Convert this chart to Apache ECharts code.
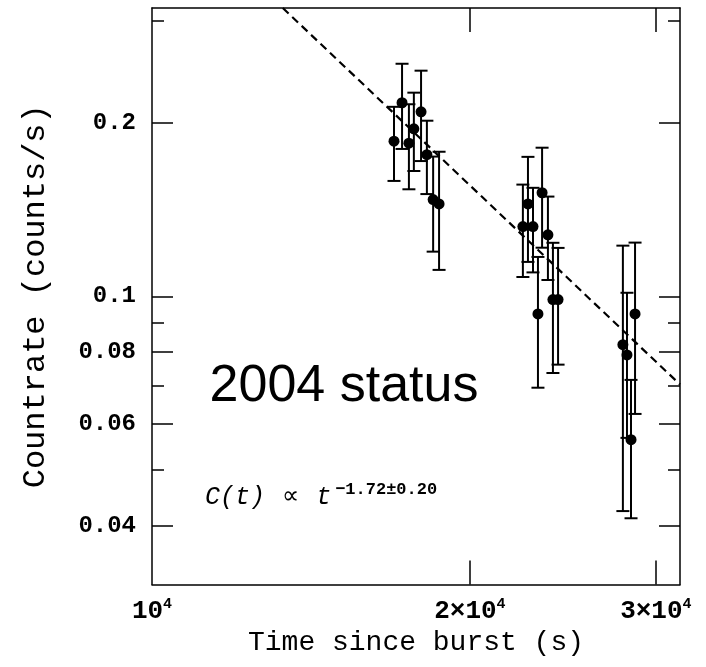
<!DOCTYPE html>
<html><head><meta charset="utf-8">
<script src="https://cdn.jsdelivr.net/npm/echarts@6/dist/echarts.min.js"></script>
<style>html,body{margin:0;padding:0;background:#fff}#c{width:706px;height:667px}</style>
</head><body><div id="c"></div>
<script>
// Observed light-curve points (time since burst in s, countrate in counts/s, 1-sigma error)
const times  = [16950, 17250, 17510, 17700, 17980, 18210, 18460, 18700,
                22450, 22700, 22950, 23200, 23410, 23710, 23970, 24240,
                27920, 28170, 28420, 28670];
const rates  = [0.1858, 0.2166, 0.1843, 0.1952, 0.2089, 0.1760, 0.1471, 0.1446,
                0.1321, 0.1446, 0.1321, 0.0932, 0.1512, 0.1278, 0.0987, 0.0987,
                0.0824, 0.0791, 0.0564, 0.0932];
const errors = [0.0273, 0.0365, 0.0310, 0.0303, 0.0373, 0.0256, 0.0276, 0.0335,
                0.0241, 0.0299, 0.0221, 0.0238, 0.0298, 0.0211, 0.0251, 0.0226,
                0.0400, 0.0223, 0.0152, 0.0307];
// Power-law fit, read at its two visible ends
const fitTimes = [13300, 31623];
const fitRates = [0.3162, 0.0703];
// Axis ticks
const xTickValues  = [20000, 30000];
const xLabelValues = [10000, 20000, 30000];
const xLabelTexts  = ['10{s|4}', '2×10{s|4}', '3×10{s|4}'];
const yMajorValues = [0.04, 0.06, 0.08, 0.1, 0.2];
const yMajorTexts  = ['0.04', '0.06', '0.08', '0.1', '0.2'];
const yMinorValues = [0.05, 0.07, 0.09, 0.3];

const X_MIN = 10000, X_MAX = 31623, Y_MIN = 0.031623, Y_MAX = 0.31623;
const FONT = '"Liberation Mono", "DejaVu Sans Mono", monospace';
const black = '#000';

function xLabel(v) {
  let best = 0;
  xLabelValues.forEach((lv, i) => { if (Math.abs(lv - v) < Math.abs(xLabelValues[best] - v)) best = i; });
  return xLabelTexts[best];
}
function yLabel(v) {
  let best = 0;
  yMajorValues.forEach((lv, i) => { if (Math.abs(Math.log(lv) - Math.log(v)) < Math.abs(Math.log(yMajorValues[best]) - Math.log(v))) best = i; });
  return yMajorTexts[best];
}

function xAxisDef(pos, withLabels) {
  return {
    type: 'log', logBase: 10, position: pos, min: X_MIN, max: X_MAX,
    splitLine: { show: false },
    axisLine: { show: true, lineStyle: { color: black, width: 1.5 } },
    axisTick: { show: true, inside: true, length: 24, lineStyle: { color: black, width: 1.5 }, customValues: xTickValues },
    axisLabel: withLabels ? {
      show: true, customValues: xLabelValues, margin: 12, color: black,
      fontFamily: FONT, fontWeight: 'bold', fontSize: 26, formatter: xLabel,
      rich: { s: { fontFamily: FONT, fontWeight: 'bold', fontSize: 15, color: black, padding: [0, 0, 14, 0] } }
    } : { show: false },
    name: withLabels ? 'Time since burst (s)' : '', nameLocation: 'middle', nameGap: 44,
    nameTextStyle: { fontFamily: FONT, fontSize: 28, color: black }
  };
}
function yAxisDef(pos, values, len, withLine, withLabels) {
  return {
    type: 'log', logBase: 10, position: pos, min: Y_MIN, max: Y_MAX,
    splitLine: { show: false },
    axisLine: { show: withLine, lineStyle: { color: black, width: 1.5 } },
    axisTick: { show: true, inside: true, length: len, lineStyle: { color: black, width: 1.5 }, customValues: values },
    axisLabel: withLabels ? {
      show: true, customValues: values, margin: 16, color: black,
      fontFamily: FONT, fontWeight: 'bold', fontSize: 24, formatter: yLabel
    } : { show: false },
    name: withLabels ? 'Countrate (counts/s)' : '', nameLocation: 'middle', nameGap: 100, nameRotate: 90,
    nameTextStyle: { fontFamily: FONT, fontSize: 32, color: black }
  };
}

const chart = echarts.init(document.getElementById('c'), null, { renderer: 'canvas' });
chart.setOption({
  animation: false,
  backgroundColor: '#fff',
  grid: { left: 152, top: 8, right: 26, bottom: 82.5, outerBoundsMode: 'none', containLabel: false },
  xAxis: [xAxisDef('bottom', true), xAxisDef('top', false)],
  yAxis: [
    yAxisDef('left', yMajorValues, 21, true, true),
    yAxisDef('left', yMinorValues, 12, false, false),
    yAxisDef('right', yMajorValues, 21, true, false),
    yAxisDef('right', yMinorValues, 12, false, false)
  ],
  graphic: [
    { type: 'text', x: 344, y: 387, z: 100,
      style: { text: '2004 status', fontFamily: '"Liberation Sans", Arial, sans-serif', fontSize: 52,
               fill: black, align: 'center', verticalAlign: 'middle' } },
    { type: 'text', x: 205, y: 497, z: 100,
      style: { text: '{m|C(t) }{o|∝}{m| t}{s|−1.72±0.20}',
               align: 'left', verticalAlign: 'middle',
               rich: {
                 m: { fontFamily: FONT, fontStyle: 'italic', fontSize: 25, fill: black },
                 o: { fontFamily: '"DejaVu Sans", sans-serif', fontSize: 24, fill: black, padding: [0, 2, 0, 2] },
                 s: { fontFamily: FONT, fontWeight: 'bold', fontSize: 17, fill: black, padding: [0, 0, 14, 4] }
               } } }
  ],
  series: [
    {
      type: 'line', xAxisIndex: 0, yAxisIndex: 0,
      data: fitTimes.map((t, i) => [t, fitRates[i]]),
      symbol: 'none', silent: true,
      lineStyle: { color: black, width: 2.2, type: [8, 5] }
    },
    {
      type: 'custom', xAxisIndex: 0, yAxisIndex: 0,
      data: times.map((t, i) => [t, rates[i], errors[i]]),
      encode: { x: 0, y: 1 },
      renderItem: function (params, api) {
        const x = api.value(0), y = api.value(1), e = api.value(2);
        const hi = api.coord([x, y + e]);
        const lo = api.coord([x, y - e]);
        const h = 6.5;
        const st = { stroke: black, lineWidth: 2 };
        return { type: 'group', children: [
          { type: 'line', shape: { x1: hi[0], y1: hi[1], x2: lo[0], y2: lo[1] }, style: st },
          { type: 'line', shape: { x1: hi[0] - h, y1: hi[1], x2: hi[0] + h, y2: hi[1] }, style: st },
          { type: 'line', shape: { x1: lo[0] - h, y1: lo[1], x2: lo[0] + h, y2: lo[1] }, style: st }
        ] };
      }
    },
    {
      type: 'scatter', xAxisIndex: 0, yAxisIndex: 0,
      data: times.map((t, i) => [t, rates[i]]),
      symbol: 'circle', symbolSize: 11,
      itemStyle: { color: black, opacity: 1 }
    }
  ]
});
</script>
</body></html>
